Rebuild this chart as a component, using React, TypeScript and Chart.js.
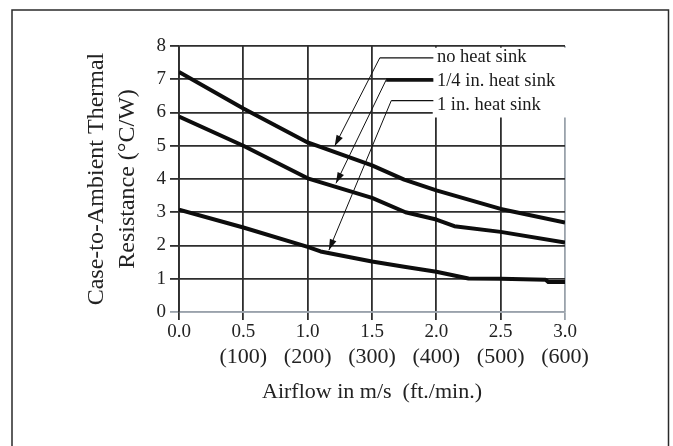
import React, { useEffect, useRef } from 'react';
import { Chart, registerables } from 'chart.js';

Chart.register(...registerables);

// ---- data ----
const airflowNoSink = [0, 0.5, 1.0, 1.5, 1.75, 2.0, 2.5, 3.0];
const resistanceNoSink = [7.22, 6.12, 5.1, 4.41, 3.98, 3.66, 3.1, 2.69];

const airflowQuarterInch = [0, 0.5, 1.0, 1.5, 1.76, 2.0, 2.14, 2.5, 3.0];
const resistanceQuarterInch = [5.88, 5.0, 4.02, 3.43, 3.0, 2.78, 2.58, 2.41, 2.09];

const airflowOneInch = [0, 0.5, 1.0, 1.1, 1.5, 1.75, 2.0, 2.25, 2.5, 2.85, 2.87, 3.0];
const resistanceOneInch = [3.08, 2.54, 1.96, 1.82, 1.52, 1.36, 1.21, 1.01, 1.0, 0.97, 0.9, 0.9];

const seriesLabels = ['no heat sink', '1/4 in. heat sink', '1 in. heat sink'];

// tick labels
const mpsTickLabels = ['0.0', '0.5', '1.0', '1.5', '2.0', '2.5', '3.0'];
const ftPerMinTickLabels = ['', '(100)', '(200)', '(300)', '(400)', '(500)', '(600)'];
const yTickLabels = ['0', '1', '2', '3', '4', '5', '6', '7', '8'];

// callout geometry in data units (m/s, °C/W)
const leaderY = [7.64, 6.98, 6.36];
const labelTextY = [7.65, 6.95, 6.23];
const leaderElbowX = [1.56, 1.61, 1.65];
const arrowTipX = [1.21, 1.22, 1.165];
const arrowTipY = [4.99, 3.87, 1.86];
const leaderEndX = [1.977, 1.977, 1.977];
const labelTextX = [2.005, 2.005, 2.005];
const calloutBoxX = [1.972, 3.03];
const calloutBoxY = [7.95, 5.85];

const SERIF = '"Liberation Serif", "Times New Roman", serif';

const toPoints = (xs: number[], ys: number[]) => xs.map((x, i) => ({ x, y: ys[i] }));

const framePlugin = {
  id: 'frame',
  beforeDraw(chart: any) {
    const { ctx } = chart;
    ctx.save();
    ctx.strokeStyle = '#2a2a2a';
    ctx.lineWidth = 1.5;
    ctx.strokeRect(12, 10, 656.5, 470);
    ctx.restore();
  },
};

const calloutPlugin = {
  id: 'callouts',
  beforeDatasetsDraw(chart: any) {
    const { ctx, scales } = chart;
    const x = scales.x, y = scales.y;
    const x0 = x.getPixelForValue(calloutBoxX[0]);
    const x1 = x.getPixelForValue(calloutBoxX[1]);
    const y0 = y.getPixelForValue(calloutBoxY[0]);
    const y1 = y.getPixelForValue(calloutBoxY[1]);
    ctx.save();
    ctx.fillStyle = '#ffffff';
    ctx.fillRect(x0, y0, x1 - x0, y1 - y0);
    ctx.restore();
  },
  afterDatasetsDraw(chart: any) {
    const { ctx, scales } = chart;
    const x = scales.x, y = scales.y;
    ctx.save();
    for (let i = 0; i < seriesLabels.length; i++) {
      const ly = y.getPixelForValue(leaderY[i]);
      const ex = x.getPixelForValue(leaderElbowX[i]);
      const endX = x.getPixelForValue(leaderEndX[i]);
      const tx = x.getPixelForValue(arrowTipX[i]);
      const ty = y.getPixelForValue(arrowTipY[i]);
      // horizontal leader
      ctx.strokeStyle = '#111';
      ctx.lineWidth = i === 1 ? 3.5 : 1.2;
      ctx.beginPath();
      ctx.moveTo(ex, ly);
      ctx.lineTo(endX, ly);
      ctx.stroke();
      // diagonal leader
      ctx.lineWidth = 1;
      ctx.beginPath();
      ctx.moveTo(ex, ly);
      ctx.lineTo(tx, ty);
      ctx.stroke();
      // arrowhead
      const ang = Math.atan2(ty - ly, tx - ex);
      const len = 11, hw = 3.5;
      const bx = tx - len * Math.cos(ang);
      const by = ty - len * Math.sin(ang);
      ctx.fillStyle = '#111';
      ctx.beginPath();
      ctx.moveTo(tx, ty);
      ctx.lineTo(bx + hw * Math.sin(ang), by - hw * Math.cos(ang));
      ctx.lineTo(bx - hw * Math.sin(ang), by + hw * Math.cos(ang));
      ctx.closePath();
      ctx.fill();
      // label
      ctx.fillStyle = '#1a1a1a';
      ctx.font = `18.5px ${SERIF}`;
      ctx.textAlign = 'left';
      ctx.textBaseline = 'middle';
      ctx.fillText(seriesLabels[i], x.getPixelForValue(labelTextX[i]), y.getPixelForValue(labelTextY[i]));
    }
    ctx.restore();
  },
};

export default function App() {
  const ref = useRef<HTMLCanvasElement>(null);

  useEffect(() => {
    document.body.style.margin = '0';
    const gridDark = '#2e2e2e';
    const gridLight = '#9aa2ab';
    const chart = new Chart(ref.current as HTMLCanvasElement, {
      type: 'line',
      data: {
        datasets: [
          { label: seriesLabels[0], data: toPoints(airflowNoSink, resistanceNoSink) },
          { label: seriesLabels[1], data: toPoints(airflowQuarterInch, resistanceQuarterInch) },
          { label: seriesLabels[2], data: toPoints(airflowOneInch, resistanceOneInch) },
        ].map((d) => ({
          ...d,
          xAxisID: 'x',
          yAxisID: 'y',
          borderColor: '#0d0d0d',
          borderWidth: 4,
          pointRadius: 0,
          tension: 0,
          fill: false,
          borderJoinStyle: 'round' as const,
        })),
      },
      options: {
        responsive: false,
        animation: false,
        layout: { padding: { left: 0, top: 46, right: 108, bottom: 0 } },
        plugins: { legend: { display: false }, tooltip: { enabled: false } },
        scales: {
          x: {
            type: 'linear',
            position: 'bottom',
            weight: 0,
            min: 0,
            max: 3,
            afterFit: (s: any) => { s.height = 30; },
            ticks: {
              stepSize: 0.5,
              autoSkip: false,
              maxRotation: 0,
              padding: 1,
              color: '#222',
              font: { family: SERIF, size: 19, lineHeight: 1.2 },
              callback: (_v: any, i: number) => mpsTickLabels[i],
            },
            grid: {
              color: (c: any) => (c.tick && c.tick.value === 3 ? gridLight : gridDark),
              lineWidth: 1.8,
              tickLength: 8,
            },
            border: { display: true, color: gridLight, width: 1.5 },
          },
          xft: {
            type: 'linear',
            position: 'bottom',
            weight: 1,
            min: 0,
            max: 600,
            afterFit: (s: any) => { s.height = 104; },
            ticks: {
              stepSize: 100,
              autoSkip: false,
              maxRotation: 0,
              padding: 2,
              color: '#222',
              font: { family: SERIF, size: 22, lineHeight: 1.2 },
              callback: (_v: any, i: number) => ftPerMinTickLabels[i],
            },
            grid: { display: false, drawTicks: false, tickLength: 0 },
            border: { display: false },
            title: {
              display: true,
              text: 'Airflow in m/s  (ft./min.)',
              color: '#222',
              font: { family: SERIF, size: 22, lineHeight: 1.2 },
              padding: { top: 0, bottom: 40.8 },
            },
          },
          y: {
            type: 'linear',
            position: 'left',
            min: 0,
            max: 8,
            afterFit: (s: any) => { s.width = 179; },
            ticks: {
              stepSize: 1,
              padding: 4,
              color: '#222',
              font: { family: SERIF, size: 19 },
              callback: (_v: any, i: number) => yTickLabels[i],
            },
            grid: {
              color: (c: any) => (c.tick && c.tick.value === 0 ? gridLight : gridDark),
              lineWidth: 1.8,
              tickLength: 9,
            },
            border: { display: true, color: gridDark, width: 1.8 },
            title: {
              display: true,
              text: ['Case-to-Ambient Thermal', 'Resistance (°C/W)'],
              color: '#222',
              font: { family: SERIF, size: 24, lineHeight: 1.3 },
              padding: { top: 81.4, bottom: 0 },
            },
          },
        },
      },
      plugins: [framePlugin, calloutPlugin],
    } as any);
    return () => chart.destroy();
  }, []);

  return (
    <div style={{ width: 673, height: 446, position: 'relative', background: '#fff' }}>
      <canvas ref={ref} width={673} height={446} style={{ display: 'block' }} />
    </div>
  );
}
